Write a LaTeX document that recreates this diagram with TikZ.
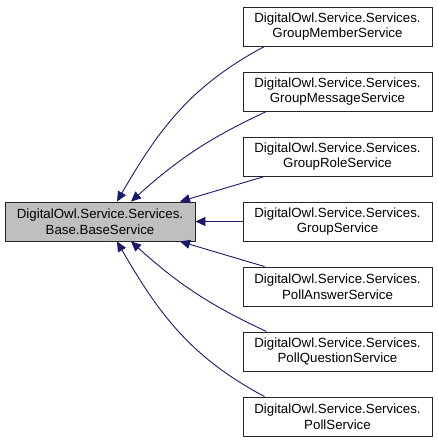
\documentclass[tikz,border=0pt]{standalone}
\usepackage{fontspec}
\setmainfont{Liberation Sans}
\usetikzlibrary{arrows.meta}
\definecolor{edgeblue}{HTML}{191970}
\definecolor{basegray}{HTML}{BFBFBF}

\begin{document}
\begin{tikzpicture}[x=1pt, y=1pt, ->, >={Triangle[length=10pt, width=9pt]}, thick,
        class node/.style={rectangle, draw=black!85, line width=0.9pt, fill=white,
            minimum width=189pt, minimum height=39pt, inner sep=0pt, align=center,
            font=\fontsize{13.3}{15.5}\selectfont},
        base node/.style={class node, fill=basegray, minimum width=190pt},
        inh/.style={draw=edgeblue, line width=0.9pt}]
    \useasboundingbox (0,0) rectangle (437,-444);

    % Klasy
    \node[base node] (base) at (100,-221.5) {DigitalOwl.Service.Services.\\Base.BaseService};
    \node[class node] (member)   at (337.5,-26.5)  {DigitalOwl.Service.Services.\\GroupMemberService};
    \node[class node] (message)  at (337.5,-91.5)  {DigitalOwl.Service.Services.\\GroupMessageService};
    \node[class node] (role)     at (337.5,-156.5) {DigitalOwl.Service.Services.\\GroupRoleService};
    \node[class node] (group)    at (337.5,-221.5) {DigitalOwl.Service.Services.\\GroupService};
    \node[class node] (answer)   at (337.5,-286.5) {DigitalOwl.Service.Services.\\PollAnswerService};
    \node[class node] (question) at (337.5,-351.5) {DigitalOwl.Service.Services.\\PollQuestionService};
    \node[class node] (poll)     at (337.5,-416.5) {DigitalOwl.Service.Services.\\PollService};

    % Dziedziczenie
    \path ([xshift=22]member.south west) edge[inh, out=208, in=60] ([xshift=17]base.north);
    \path ([xshift=24]message.south west) edge[inh, out=205, in=42] ([xshift=31]base.north);
    \path ([xshift=22]role.south west) edge[inh] ([xshift=80]base.north);
    \path (group) edge[inh] (base);
    \path ([xshift=22]answer.north west) edge[inh] ([xshift=80]base.south);
    \path ([xshift=24]question.north west) edge[inh, out=155, in=-42] ([xshift=31]base.south);
    \path ([xshift=22]poll.north west) edge[inh, out=152, in=-60] ([xshift=17]base.south);
\end{tikzpicture}
\end{document}
